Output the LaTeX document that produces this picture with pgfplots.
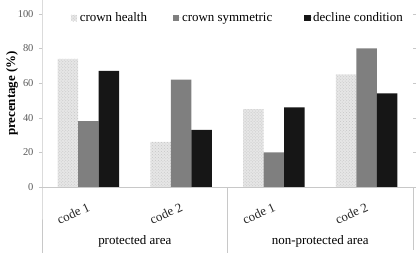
\documentclass[border=0pt]{standalone}
\usepackage{pgfplots}
\pgfplotsset{compat=1.18}
\usepackage{fontspec}
\setmainfont{Liberation Serif}
\usetikzlibrary{patterns}
\definecolor{lightbar}{HTML}{E6E6E6}
\definecolor{midbar}{HTML}{7F7F7F}
\definecolor{darkbar}{HTML}{161616}
\definecolor{axisgray}{HTML}{C8C8C8}
\definecolor{ticktext}{HTML}{595959}
\begin{document}
\begin{tikzpicture}
\begin{axis}[
  scale only axis,
  width=371bp, height=187bp,
  xmin=-0.5, xmax=3.5,
  ymin=0, ymax=108,
  ytick={0,20,40,60,80,100},
  xtick={0,1,2,3},
  xticklabels={code 1,code 2,code 1,code 2},
  ybar=0pt, bar width=20.5bp,
  axis line style={draw=none},
  clip=false,
  tick align=outside,
  major tick length=3bp,
  ytick style={axisgray, thin},
  xtick style={draw=none},
  /pgf/number format/assume math mode=true,
  yticklabel style={font=\fontsize{10.5}{12}\selectfont, text=ticktext, xshift=-2bp},
  xticklabel style={font=\fontsize{13}{15}\selectfont, text=black!85, rotate=25, anchor=north east, yshift=-7bp, xshift=-3bp},
  ylabel={\bfseries precentage (\%)},
  ylabel style={font=\fontsize{13}{15}\selectfont, at={(axis description cs:-0.081,0.5)}, anchor=center},
  legend style={at={(0.0765,0.904)}, anchor=west, draw=none, fill=none, inner sep=0pt,
    nodes={inner sep=1.2bp},
    legend columns=3, font=\fontsize{13}{15}\selectfont,
    /tikz/column 2/.style={column sep=24.6bp},
    /tikz/column 4/.style={column sep=30.5bp}},
  legend image code/.code={\fill[#1] (0bp,-3.3bp) rectangle (6.6bp,3.3bp); \path (0bp,0bp) -- (8bp,0bp);},
]
\addplot[fill=lightbar, draw=none, postaction={pattern=crosshatch dots, pattern color=gray!45}]
  coordinates {(0,74) (1,26) (2,45) (3,65)};
\addplot[fill=midbar, draw=none]
  coordinates {(0,38) (1,62) (2,20) (3,80)};
\addplot[fill=darkbar, draw=none]
  coordinates {(0,67) (1,33) (2,46) (3,54)};
\legend{crown health, crown symmetric, decline condition}
\draw[axisgray] (rel axis cs:0,1) -- (rel axis cs:0,0) -- ++(0bp,-66bp);
\draw[axisgray] (rel axis cs:0,0) -- (rel axis cs:1,0) -- ++(0bp,-63bp);
\draw[axisgray] (axis cs:1.5,0) -- ++(0bp,-66bp);
\node[font=\fontsize{13}{15}\selectfont] at (axis cs:0.5,0) [yshift=-54bp] {protected area};
\node[font=\fontsize{13}{15}\selectfont] at (axis cs:2.5,0) [yshift=-54bp] {non-protected area};
\coordinate (bl) at (rel axis cs:0,0);
\coordinate (tr) at (rel axis cs:1,1);
\end{axis}
\pgfresetboundingbox
\path (bl) ++(-42bp,-66bp) coordinate (BL);
\path (tr) ++(5bp,0bp) coordinate (TR);
\path (BL) rectangle (TR);
\end{tikzpicture}
\end{document}
